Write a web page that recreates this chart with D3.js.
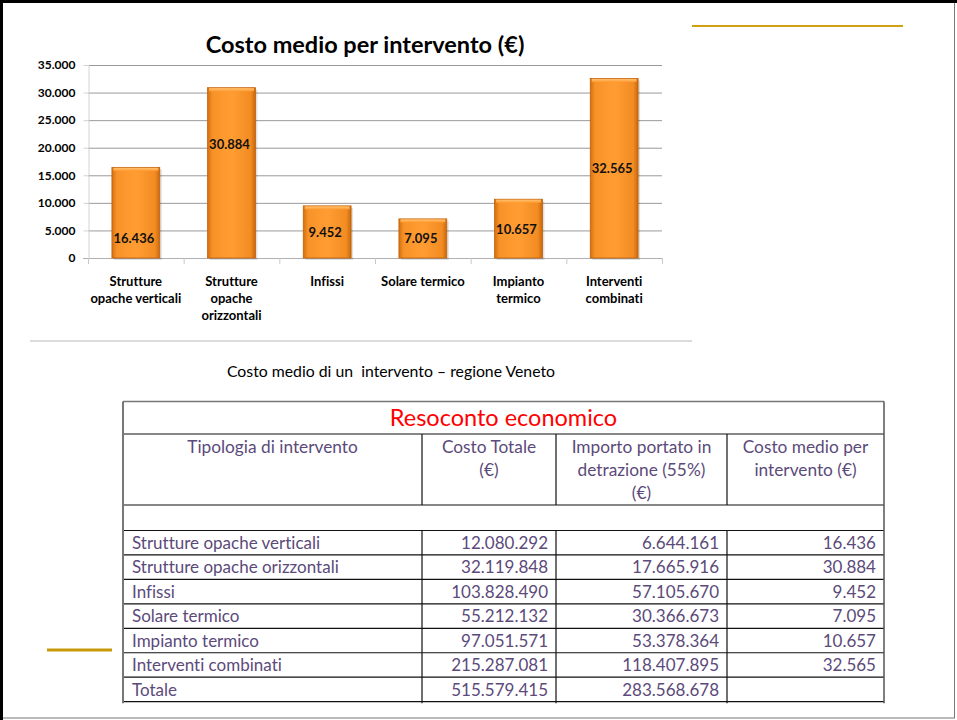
<!DOCTYPE html>
<html><head><meta charset="utf-8">
<script src="https://cdn.jsdelivr.net/npm/d3@7"></script>
<style>html,body{margin:0;padding:0;background:#fff;}svg{display:block;}svg text{font-variant-ligatures:none;font-feature-settings:"liga" 0,"clig" 0;}</style>
</head><body>
<script>
// ---- data ----
const categories = [["Strutture","opache verticali"],["Strutture","opache","orizzontali"],["Infissi"],["Solare termico"],["Impianto","termico"],["Interventi","combinati"]];
const costoMedio = [16436, 30884, 9452, 7095, 10657, 32565];
const labelAt = [3600, 20500, 4550, 3450, 5250, 16150]; // data-unit height where the value label sits
const yTicks = [0, 5000, 10000, 15000, 20000, 25000, 30000, 35000];

const tableTitle = "Resoconto economico";
const headers = [["Tipologia di intervento"],["Costo Totale","(€)"],["Importo portato in","detrazione (55%)","(€)"],["Costo medio per","intervento (€)"]];
const rowNames = ["Strutture opache verticali","Strutture opache orizzontali","Infissi","Solare termico","Impianto termico","Interventi combinati","Totale"];
const costoTotale = [12080292, 32119848, 103828490, 55212132, 97051571, 215287081, 515579415];
const detrazione = [6644161, 17665916, 57105670, 30366673, 53378364, 118407895, 283568678];
const costoMedioTab = [16436, 30884, 9452, 7095, 10657, 32565, null];
const caption = "Costo medio di un  intervento – regione Veneto";

const fmt = v => d3.format(",")(v).replace(/,/g, ".");
const W = 957, H = 720;
const svg = d3.select("body").append("svg").attr("width", W).attr("height", H);
const FONT = "Lato, 'Open Sans', sans-serif";

// page frame
svg.append("rect").attr("x", 1.5).attr("y", 1.5).attr("width", 953).attr("height", 716.5)
  .attr("fill", "none").attr("stroke", "#777").attr("stroke-width", 1);
svg.append("line").attr("x1", 0).attr("x2", W).attr("y1", 1.5).attr("y2", 1.5).attr("stroke", "#000").attr("stroke-width", 3);
svg.append("line").attr("x1", 1.5).attr("x2", 1.5).attr("y1", 0).attr("y2", H).attr("stroke", "#000").attr("stroke-width", 3);
svg.append("line").attr("x1", 692).attr("x2", 903).attr("y1", 26).attr("y2", 26).attr("stroke", "#d0a010").attr("stroke-width", 2);
svg.append("line").attr("x1", 47).attr("x2", 112).attr("y1", 650).attr("y2", 650).attr("stroke", "#c89a0a").attr("stroke-width", 3);

// ---- chart ----
const defs = svg.append("defs");
const g1 = defs.append("linearGradient").attr("id", "barg").attr("x1", "0").attr("x2", "1").attr("y1", "0").attr("y2", "0");
[["0%", "#d2700e"], ["10%", "#f79228"], ["50%", "#ff9d33"], ["90%", "#f38c22"], ["100%", "#c9680c"]]
  .forEach(([o, c]) => g1.append("stop").attr("offset", o).attr("stop-color", c));
const g2 = defs.append("linearGradient").attr("id", "bart").attr("x1", "0").attr("x2", "0").attr("y1", "0").attr("y2", "1");
[["0%", "#ffc070"], ["100%", "#ff9d33"]].forEach(([o, c]) => g2.append("stop").attr("offset", o).attr("stop-color", c));

const x = d3.scaleBand().domain(d3.range(categories.length)).range([88, 662]).paddingInner(0.5).paddingOuter(0.25);
const y = d3.scaleLinear().domain([0, 35000]).range([258, 65]);

svg.append("text").attr("x", 365).attr("y", 53).attr("text-anchor", "middle")
  .attr("font-family", FONT).attr("font-weight", 700).attr("font-size", 23.5).attr("fill", "#000")
  .text("Costo medio per intervento (€)");

// gridlines
svg.append("g").selectAll("line").data(yTicks.filter(d => d > 0)).join("line")
  .attr("x1", 88).attr("x2", 662).attr("y1", d => y(d) + 0.5).attr("y2", d => y(d) + 0.5)
  .attr("stroke", "#9a9a9a").attr("stroke-width", 1);

// y axis
const yAxis = svg.append("g").attr("transform", "translate(88.5,0)")
  .call(d3.axisLeft(y).tickValues(yTicks).tickFormat(fmt).tickSize(5).tickPadding(8));
yAxis.select(".domain").attr("stroke", "#d4d4d4");
yAxis.selectAll(".tick line").attr("stroke", "#d4d4d4");
yAxis.selectAll("text").attr("font-family", FONT).attr("font-weight", 700).attr("font-size", 12).attr("fill", "#000");

// x baseline and ticks
const bounds = d3.range(categories.length + 1).map(i => 88 + i * (574 / categories.length));
svg.append("line").attr("x1", 83).attr("x2", 662).attr("y1", 258.5).attr("y2", 258.5).attr("stroke", "#b0b0b0");
svg.append("g").selectAll("line").data(bounds).join("line")
  .attr("x1", d => d + 0.5).attr("x2", d => d + 0.5).attr("y1", 258).attr("y2", 264).attr("stroke", "#c8c8c8");

// bars
const bars = svg.append("g");
bars.selectAll("rect.sh").data(costoMedio).join("rect").attr("class", "sh")
  .attr("x", (d, i) => x(i) + 2).attr("y", d => y(d) + 2).attr("width", x.bandwidth()).attr("height", d => y(0) - y(d))
  .attr("fill", "#000").attr("opacity", 0.12);
bars.selectAll("rect.b").data(costoMedio).join("rect").attr("class", "b")
  .attr("x", (d, i) => x(i)).attr("y", d => y(d)).attr("width", x.bandwidth()).attr("height", d => y(0) - y(d))
  .attr("fill", "url(#barg)").attr("stroke", "#c0620a").attr("stroke-width", 0.8);
bars.selectAll("rect.t").data(costoMedio).join("rect").attr("class", "t")
  .attr("x", (d, i) => x(i) + 1.5).attr("y", d => y(d) + 0.5).attr("width", x.bandwidth() - 3).attr("height", 3)
  .attr("fill", "url(#bart)");

// value labels
svg.append("g").selectAll("text").data(costoMedio).join("text")
  .attr("x", (d, i) => x(i) + x.bandwidth() / 2 - 2).attr("y", (d, i) => y(labelAt[i]) + 4.5)
  .attr("text-anchor", "middle").attr("font-family", FONT).attr("font-weight", 700).attr("font-size", 13).attr("fill", "#111")
  .text(d => fmt(d));

// category labels
svg.append("g").selectAll("text").data(categories).join("text")
  .attr("x", (d, i) => x(i) + x.bandwidth() / 2).attr("y", 285.5)
  .attr("text-anchor", "middle").attr("font-family", FONT).attr("font-weight", 700).attr("font-size", 13).attr("fill", "#000")
  .each(function (d) {
    d3.select(this).selectAll("tspan").data(d).join("tspan")
      .attr("x", d3.select(this).attr("x")).attr("dy", (t, j) => j === 0 ? 0 : 17).text(t => t);
  });

svg.append("line").attr("x1", 30).attr("x2", 692).attr("y1", 341).attr("y2", 341).attr("stroke", "#b8b8b8").attr("stroke-width", 1);

svg.append("text").attr("x", 391).attr("y", 377).attr("text-anchor", "middle")
  .attr("font-family", FONT).attr("font-size", 15.8).attr("fill", "#000").attr("xml:space", "preserve").style("white-space", "pre").text(caption);

// ---- table ----
const colX = [123, 422, 556, 727, 884];
const tTop = 401.5, titleBot = 434, headBot = 505, emptyBot = 530.5, rowH = 24.45;
const tcol = "#5b4a7a";
const TF = 17;
const T = svg.append("g");
const nRows = rowNames.length;
const tBottom = emptyBot + nRows * rowH;

// horizontal lines
const hl = [titleBot, headBot, emptyBot].concat(d3.range(1, nRows + 1).map(i => emptyBot + i * rowH));
T.selectAll("line.h").data(hl).join("line").attr("class", "h")
  .attr("x1", colX[0]).attr("x2", colX[4]).attr("y1", d => d).attr("y2", d => d).attr("stroke", "#111").attr("stroke-width", 1.2);
T.append("line").attr("x1", colX[0]).attr("x2", colX[4]).attr("y1", tTop).attr("y2", tTop).attr("stroke", "#777").attr("stroke-width", 1.5);
// vertical outer lines
T.append("line").attr("x1", colX[0]).attr("x2", colX[0]).attr("y1", tTop).attr("y2", tBottom + 1.5).attr("stroke", "#777").attr("stroke-width", 2);
T.append("line").attr("x1", colX[4]).attr("x2", colX[4]).attr("y1", tTop).attr("y2", tBottom + 1.5).attr("stroke", "#555").attr("stroke-width", 1.5);
// inner verticals (header and data sections)
[1, 2, 3].forEach(c => {
  T.append("line").attr("x1", colX[c]).attr("x2", colX[c]).attr("y1", titleBot).attr("y2", headBot).attr("stroke", "#111").attr("stroke-width", 1.2);
  T.append("line").attr("x1", colX[c]).attr("x2", colX[c]).attr("y1", emptyBot).attr("y2", tBottom + 1.5).attr("stroke", "#111").attr("stroke-width", 1.2);
});

T.append("text").attr("x", (colX[0] + colX[4]) / 2).attr("y", 425.5).attr("text-anchor", "middle")
  .attr("font-family", FONT).attr("font-size", 23.5).attr("fill", "#ff0000").text(tableTitle);

headers.forEach((h, c) => {
  const t = T.append("text").attr("x", (colX[c] + colX[c + 1]) / 2).attr("y", 452.5).attr("text-anchor", "middle")
    .attr("font-family", FONT).attr("font-size", 17.3).attr("fill", tcol);
  h.forEach((line, j) => t.append("tspan").attr("x", (colX[c] + colX[c + 1]) / 2).attr("dy", j === 0 ? 0 : 23).text(line));
});

rowNames.forEach((name, i) => {
  const yb = emptyBot + i * rowH + 18.5;
  T.append("text").attr("x", colX[0] + 9).attr("y", yb).attr("font-family", FONT).attr("font-size", TF).attr("fill", tcol).text(name);
  [costoTotale[i], detrazione[i], costoMedioTab[i]].forEach((v, c) => {
    if (v == null) return;
    T.append("text").attr("x", colX[c + 2] - 8).attr("y", yb).attr("text-anchor", "end")
      .attr("font-family", FONT).attr("font-size", TF).attr("fill", tcol).text(fmt(v));
  });
});
</script>
</body></html>
